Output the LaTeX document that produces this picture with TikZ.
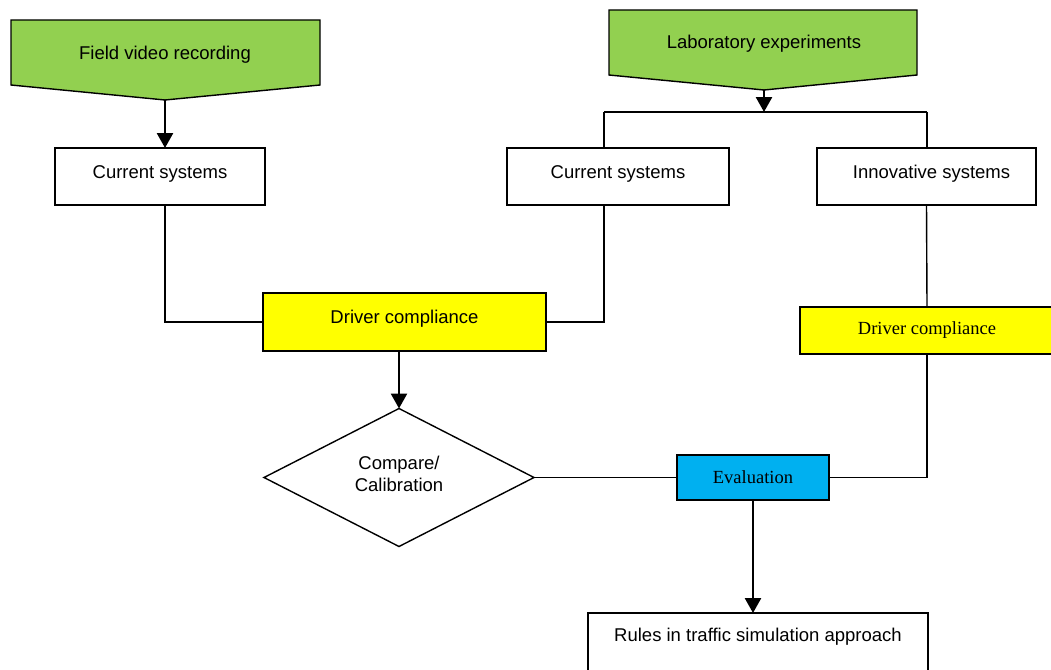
\documentclass[tikz,border=0pt]{standalone}
\usepackage{fontspec}
\setmainfont{Liberation Sans}
\newfontfamily\seriffont{Liberation Serif}
\usetikzlibrary{shapes.geometric,arrows.meta}
\definecolor{gfill}{HTML}{92D050}
\definecolor{yfill}{HTML}{FFFF00}
\definecolor{bfill}{HTML}{00B0F0}
\begin{document}
\begin{tikzpicture}[x=1pt,y=-1pt,
  every node/.style={font=\fontsize{18.5}{22}\selectfont, inner sep=0pt, outer sep=0pt},
  boxst/.style={draw=black, line width=1.8pt, fill=white},
  conn/.style={draw=black, line width=1.4pt},
  arr/.style={draw=black, line width=2.6pt, -{Triangle[width=16pt,length=15pt]}},
  srcst/.style={draw=black, line width=1.4pt, fill=gfill}]
\clip (0,0) rectangle (1051,669);
\fill[white] (0,0) rectangle (1051,669);
% green source shapes
\path[srcst] (11,20) -- (320,20) -- (320,85) -- (165,100) -- (11,85) -- cycle;
\node (fv) at (165,55) {Field video recording};
\coordinate (fvtip) at (165,100);
\path[srcst] (609,10) -- (917,10) -- (917,75) -- (764,90) -- (609,75) -- cycle;
\node (lab) at (764,44) {Laboratory experiments};
\coordinate (labtip) at (764,90);
% boxes
\node[boxst, anchor=north west, minimum width=210pt, text height=30.5pt, text depth=26.5pt] (cs1) at (55,148) {Current systems};
\node[boxst, anchor=north west, minimum width=222pt, text height=30.5pt, text depth=26.5pt] (cs2) at (507,148) {Current systems};
\node[boxst, anchor=north west, minimum width=219pt, text height=30.5pt, text depth=26.5pt] (inn) at (817,148) {\hspace*{10pt}Innovative systems};
\node[boxst, fill=yfill, anchor=north west, minimum width=283pt, text height=30pt, text depth=28pt] (dc1) at (263,293) {Driver compliance};
\node[boxst, fill=yfill, anchor=north west, minimum width=254pt, minimum height=47pt, font=\seriffont\fontsize{18.5}{22}\selectfont] (dc2) at (800,307) {Driver compliance};
\node[draw=black, line width=1.4pt, fill=white, shape=diamond, minimum width=270pt, minimum height=138pt,
  label={[align=center, yshift=4pt]center:Compare/\\Calibration}] (dia) at (399,477.5) {};
\node[boxst, fill=bfill, anchor=north west, minimum width=152pt, minimum height=45pt, font=\seriffont\fontsize{18.5}{22}\selectfont] (ev) at (677,455) {Evaluation};
\node[boxst, anchor=north west, minimum width=340pt, text height=28pt, text depth=36pt] (rules) at (588,613) {Rules in traffic simulation approach};
% connectors
\coordinate (spl) at (764,112);
\coordinate (splL) at (604,112);
\coordinate (splR) at (927,112);
\draw[arr] (fvtip) -- ([xshift=5pt]cs1.north);
\draw[arr] (labtip) -- (spl);
\draw[conn] (splL) -- (splR);
\draw[conn] (splL) -- (splL |- cs2.north);
\draw[conn] (splR) -- (splR |- inn.north);
\draw[conn] ([xshift=5pt]cs1.south) |- (dc1.west);
\draw[conn] (splL |- cs2.south) |- (dc1.east);
\draw[arr] (dia.north |- dc1.south) -- (dia.north);
\draw[conn] (dia.east) -- (ev.west);
\draw[conn] (ev.east) -| (dc2.south);
\draw[conn] (inn.south) -- (dc2.north);
\draw[arr] (ev.south) -- (ev.south |- rules.north);
\end{tikzpicture}
\end{document}
